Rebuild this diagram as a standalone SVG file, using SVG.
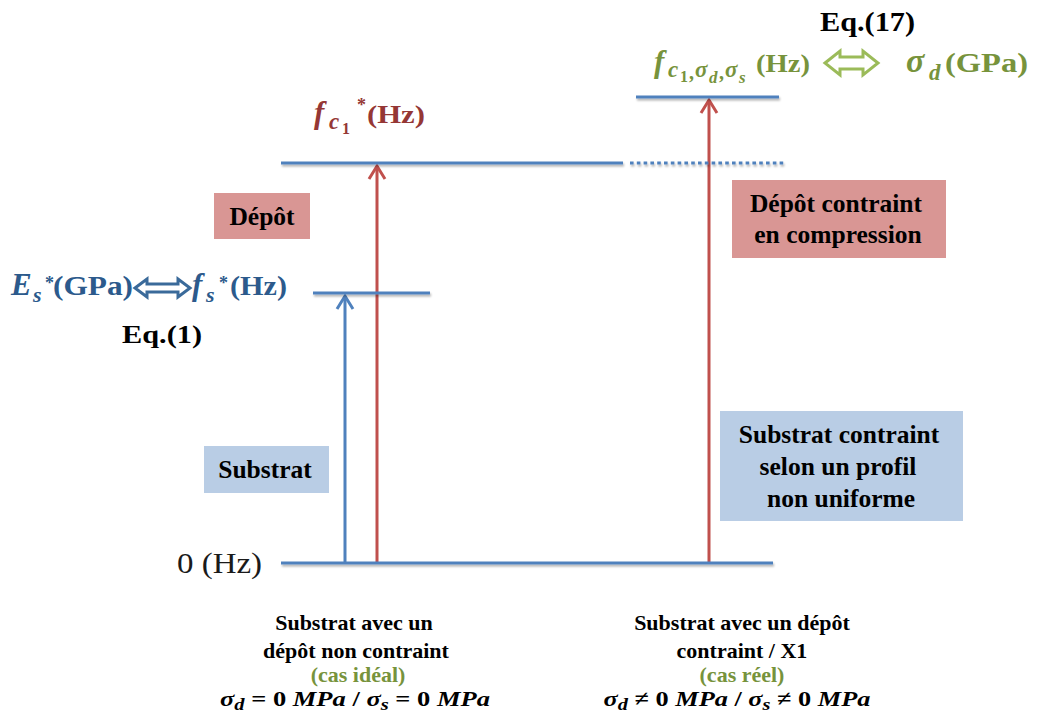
<svg xmlns="http://www.w3.org/2000/svg" width="1038" height="720" viewBox="0 0 1038 720">
<defs>
<style>
.t{font-family:"Liberation Serif","Times New Roman",serif;font-weight:bold}
.m{font-style:italic}
.box{font-size:25.5px;fill:#000;text-anchor:middle}
.bot{font-size:22px;fill:#000;text-anchor:middle}
.blue{fill:#2c5a8c}
.red{fill:#953735}
.green{fill:#77933c}
.lvl{stroke:#4f81bd;stroke-width:3;fill:none}
.arR{stroke:#c0504d;stroke-width:3;fill:none}
.arB{stroke:#4f81bd;stroke-width:3;fill:none}
</style>
<filter id="sh" x="-5%" y="-200%" width="110%" height="500%">
<feDropShadow dx="1" dy="2" stdDeviation="1" flood-color="#000" flood-opacity="0.3"/>
</filter>
<marker id="ahR" viewBox="-16 -10 18 20" refX="0" refY="0" markerWidth="18" markerHeight="20" markerUnits="userSpaceOnUse" orient="auto" overflow="visible">
<path d="M-13,-8 L0,0 L-13,8" fill="none" stroke="#c0504d" stroke-width="3"/>
</marker>
<marker id="ahB" viewBox="-16 -10 18 20" refX="0" refY="0" markerWidth="18" markerHeight="20" markerUnits="userSpaceOnUse" orient="auto" overflow="visible">
<path d="M-13,-8 L0,0 L-13,8" fill="none" stroke="#4f81bd" stroke-width="3"/>
</marker>
</defs>
<rect width="1038" height="720" fill="#fff"/>

<g id="connectors">
<line class="arB" x1="345" y1="563" x2="345" y2="296" marker-end="url(#ahB)"/>
<line class="arR" x1="377" y1="563" x2="377" y2="166" marker-end="url(#ahR)"/>
<line class="arR" x1="709" y1="563" x2="709" y2="100" marker-end="url(#ahR)"/>
</g>

<g id="levels" filter="url(#sh)">
<line id="level-0" class="lvl" x1="281" y1="563" x2="773" y2="563"/>
<line id="level-fs" class="lvl" x1="313" y1="293" x2="430" y2="293"/>
<line id="level-fc1" class="lvl" x1="281" y1="163" x2="623" y2="163"/>
<line id="level-fc1-dotted" class="lvl" x1="630" y1="163" x2="786" y2="163" stroke-dasharray="3.6 3.2"/>
<line id="level-fc1-sigma" class="lvl" x1="636" y1="97" x2="779" y2="97"/>
</g>

<g id="box-depot">
<rect x="214" y="193" width="96" height="46" fill="#d99694"/>
<text class="t box" x="262" y="225">Dépôt</text>
</g>
<g id="box-depot-contraint">
<rect x="732" y="180" width="214" height="78" fill="#d99694"/>
<text class="t box" x="836" y="212">Dépôt contraint</text>
<text class="t box" x="838" y="243">en compression</text>
</g>
<g id="box-substrat">
<rect x="204" y="446" width="125" height="47" fill="#b9cde5"/>
<text class="t box" x="265" y="478">Substrat</text>
</g>
<g id="box-substrat-contraint">
<rect x="720" y="411" width="243" height="110" fill="#b9cde5"/>
<text class="t box" x="839" y="443">Substrat contraint</text>
<text class="t box" x="838" y="475">selon un profil</text>
<text class="t box" x="841" y="507">non uniforme</text>
</g>

<g id="label-zero">
<text x="177" y="573" font-family="Liberation Serif, serif" font-size="30" fill="#1a1a1a" textLength="85" lengthAdjust="spacingAndGlyphs">0 (Hz)</text>
</g>

<g id="label-fc1">
<text class="t m red" x="314" y="123" font-size="31">f</text>
<text class="t m red" x="329" y="129" font-size="23">c</text>
<text class="t red" x="342" y="134" font-size="16">1</text>
<text class="t red" x="357" y="111" font-size="18">*</text>
<text class="t red" x="367" y="123" font-size="26" textLength="58" lengthAdjust="spacingAndGlyphs">(Hz)</text>
</g>

<g id="label-es-fs">
<text class="t m blue" x="11" y="295" font-size="31">E</text>
<text class="t m blue" x="33" y="302" font-size="22">s</text>
<text class="t blue" x="45" y="289" font-size="18">*</text>
<text class="t blue" x="53" y="295" font-size="27" textLength="80" lengthAdjust="spacingAndGlyphs">(GPa)</text>
<path d="M135,288 L147,279 L147,284 L178,284 L178,279 L190,288 L178,297 L178,292 L147,292 L147,297 Z" fill="#fff" stroke="#3a6a9a" stroke-width="3" stroke-linejoin="miter"/>
<text class="t m blue" x="192" y="295" font-size="31">f</text>
<text class="t m blue" x="206" y="302" font-size="22">s</text>
<text class="t blue" x="219" y="289" font-size="18">*</text>
<text class="t blue" x="230" y="295" font-size="27" textLength="57" lengthAdjust="spacingAndGlyphs">(Hz)</text>
</g>
<g id="label-eq1">
<text class="t" x="122" y="343" font-size="26" fill="#000" textLength="80" lengthAdjust="spacingAndGlyphs">Eq.(1)</text>
</g>

<g id="label-eq17">
<text class="t" x="820" y="31" font-size="27" fill="#000" textLength="95" lengthAdjust="spacingAndGlyphs">Eq.(17)</text>
</g>
<g id="label-fc1-sigma">
<text class="t m green" x="654" y="72" font-size="31">f</text>
<text class="t m green" x="668" y="77" font-size="23">c</text>
<text class="t green" x="680" y="82" font-size="16">1</text>
<text class="t green" x="689" y="79" font-size="20">,</text>
<text class="t m green" x="695" y="77" font-size="23">σ</text>
<text class="t m green" x="709" y="83" font-size="17">d</text>
<text class="t green" x="719" y="79" font-size="20">,</text>
<text class="t m green" x="725" y="77" font-size="23">σ</text>
<text class="t m green" x="739" y="83" font-size="17">s</text>
<text class="t green" x="756" y="72" font-size="26" textLength="54" lengthAdjust="spacingAndGlyphs">(Hz)</text>
<path d="M825,63 L840,51 L840,57 L863,57 L863,51 L878,63 L863,75 L863,69 L840,69 L840,75 Z" fill="#fff" stroke="#9bbb59" stroke-width="3"/>
<text class="t m green" x="906" y="72" font-size="34">σ</text>
<text class="t m green" x="929" y="80" font-size="23">d</text>
<text class="t green" x="945" y="72" font-size="27" textLength="83" lengthAdjust="spacingAndGlyphs">(GPa)</text>
</g>

<g id="caption-left">
<text class="t bot" x="354" y="630">Substrat avec un</text>
<text class="t bot" x="356" y="658">dépôt non contraint</text>
<text class="t bot green" x="358" y="682">(cas idéal)</text>
<text class="t bot" x="355" y="706" font-size="25" textLength="270" lengthAdjust="spacingAndGlyphs"><tspan font-style="italic">σ</tspan><tspan font-style="italic" font-size="17" dy="4">d</tspan><tspan dy="-4"> = 0 </tspan><tspan font-style="italic">MPa</tspan><tspan> / </tspan><tspan font-style="italic">σ</tspan><tspan font-style="italic" font-size="17" dy="4">s</tspan><tspan dy="-4"> = 0 </tspan><tspan font-style="italic">MPa</tspan></text>
</g>
<g id="caption-right">
<text class="t bot" x="742" y="630">Substrat avec un dépôt</text>
<text class="t bot" x="742" y="658">contraint / X1</text>
<text class="t bot green" x="742" y="682">(cas réel)</text>
<text class="t bot" x="737" y="706" font-size="25" textLength="267" lengthAdjust="spacingAndGlyphs"><tspan font-style="italic">σ</tspan><tspan font-style="italic" font-size="17" dy="4">d</tspan><tspan dy="-4"> ≠ 0 </tspan><tspan font-style="italic">MPa</tspan><tspan> / </tspan><tspan font-style="italic">σ</tspan><tspan font-style="italic" font-size="17" dy="4">s</tspan><tspan dy="-4"> ≠ 0 </tspan><tspan font-style="italic">MPa</tspan></text>
</g>
</svg>
